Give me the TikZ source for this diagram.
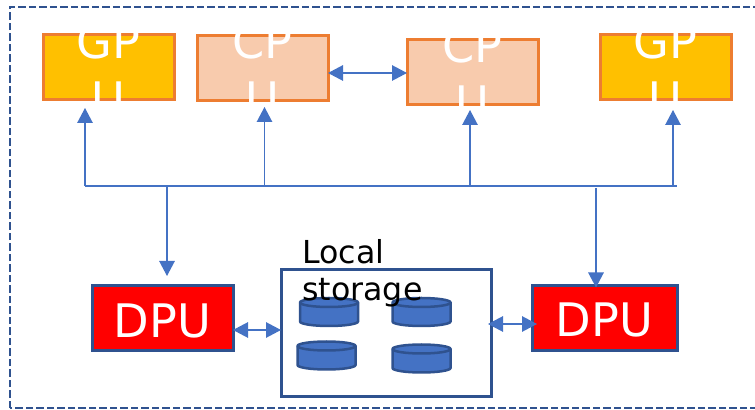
\documentclass[tikz,border=0pt]{standalone}
\usepackage{fontspec}
\setmainfont{DejaVu Sans}
\usetikzlibrary{arrows.meta}
\definecolor{linkblue}{HTML}{4472C4}
\definecolor{edgeblue}{HTML}{2F528F}
\definecolor{edgeorange}{HTML}{ED7D31}
\definecolor{gpugold}{HTML}{FFC000}
\definecolor{cpupeach}{HTML}{F8CBAD}
\tikzset{
  pubox/.style={draw=edgeorange,line width=0.06cm,minimum width=2.62cm,minimum height=1.30cm,inner sep=0pt,outer sep=0pt},
  punames/.style={text=white,align=center,inner sep=0pt,font=\fontsize{26.3}{32.5}\selectfont},
  dpubox/.style={draw=edgeblue,fill=red,line width=0.06cm,minimum height=1.30cm,inner sep=0pt,outer sep=0pt,text=white,text height=0.76cm,text depth=0cm,font=\fontsize{26.3}{32.5}\selectfont},
  disk/.pic={
    \draw [edgeblue,fill=linkblue,line width=0.05cm] (-0.58,0.19) -- (-0.58,-0.19) arc [x radius=0.58,y radius=0.09,start angle=180,end angle=360] -- (0.58,0.19) arc [x radius=0.58,y radius=0.09,start angle=0,end angle=180] -- cycle;
    \draw [edgeblue,line width=0.05cm] (-0.58,0.19) arc [x radius=0.58,y radius=0.09,start angle=180,end angle=360];
  },
  link/.style={draw=linkblue,line width=0.025cm},
  uplink/.style={link,-{Triangle[length=0.30cm,width=0.31cm]}},
  bothlink/.style={link,{Triangle[length=0.30cm,width=0.31cm]}-{Triangle[length=0.30cm,width=0.31cm]}}
}
\begin{document}
\begin{tikzpicture}
\useasboundingbox (0,0) rectangle (15.10,8.20);

% Drawing outer frame
\draw [edgeblue,line width=0.05cm,dash pattern=on 0.15cm off 0.06cm] (0.20,0.04) rectangle (15.30,8.06);

% Drawing processor boxes
\node [pubox,fill=gpugold] (gpua) at (2.17,6.85) {};
\node [pubox,fill=cpupeach] (cpua) at (5.25,6.83) {};
\node [pubox,fill=cpupeach] (cpub) at (9.45,6.75) {};
\node [pubox,fill=gpugold] (gpub) at (13.31,6.85) {};
\node [punames] (gpuatext) at (2.17,6.79) {GP\\U};
\node [punames] (cpuatext) at (5.25,6.79) {CP\\U};
\node [punames] (cpubtext) at (9.45,6.71) {CP\\U};
\node [punames] (gpubtext) at (13.31,6.79) {GP\\U};

% Drawing DPU boxes
\node [dpubox,minimum width=2.82cm] (dpua) at (3.25,1.83) {DPU};
\node [dpubox,minimum width=2.90cm] (dpub) at (12.09,1.84) {DPU};

% Drawing local storage
\node [draw=edgeblue,line width=0.06cm,minimum width=4.20cm,minimum height=2.54cm,inner sep=0pt,outer sep=0pt] (store) at (7.72,1.53) {};
\pic (diska) at (6.58,1.96) {disk};
\pic (diskb) at (8.43,1.96) {disk};
\pic (diskc) at (6.53,1.09) {disk};
\pic (diskd) at (8.43,1.03) {disk};
\node [anchor=north west,align=left,inner sep=0pt,font=\fontsize{18}{21}\selectfont] (storetext) at (6.04,3.41) {Local\\storage};

% Drawing bus
\coordinate (busgpua) at (1.70,4.48);
\coordinate (buscpua) at (5.29,4.48);
\coordinate (buscpub) at (9.40,4.48);
\coordinate (busgpub) at (13.46,4.48);
\coordinate (busend) at (13.54,4.48);
\coordinate (busdpua) at (3.34,4.48);
\coordinate (busdpub) at (11.92,4.44);
\draw [link] (busgpua) -- (busend);
\draw [uplink,shorten >=0.16cm] (busgpua) -- (busgpua |- gpua.south);
\draw [uplink,shorten >=0.12cm] (buscpua) -- (buscpua |- cpua.south);
\draw [uplink,shorten >=0.10cm] (buscpub) -- (buscpub |- cpub.south);
\draw [uplink,shorten >=0.20cm] (busgpub) -- (busgpub |- gpub.south);
\draw [uplink,shorten >=0.20cm] (busdpua) -- (busdpua |- dpua.north);
\draw [uplink,shorten >=-0.04cm] (busdpub) -- (busdpub |- dpub.north);

% Drawing double links
\draw [bothlink] (cpua.east |- 0,6.74) -- (cpub.west |- 0,6.74);
\draw [bothlink] (dpua.east |- 0,1.60) -- (store.west |- 0,1.60);
\draw [bothlink,shorten <=-0.06cm,shorten >=-0.10cm] (store.east |- 0,1.72) -- (dpub.west |- 0,1.72);
\end{tikzpicture}
\end{document}
